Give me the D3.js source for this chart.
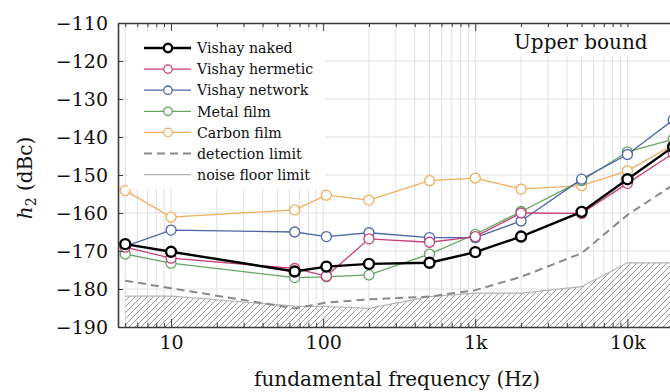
<!DOCTYPE html>
<html>
<head>
<meta charset="utf-8">
<script src="https://cdn.jsdelivr.net/npm/d3@7"></script>
<style>
  body { margin: 0; background: #fff; }
  svg { display: block; font-family: "DejaVu Serif", "Liberation Serif", "Times New Roman", serif; }
</style>
</head>
<body>
<script>
// frequencies of the measured points (Hz)
const freqs = [5, 10, 65, 105, 200, 500, 1000, 2000, 5000, 10000, 20000];

// h2 in dBc for each resistor type
const vishayNaked    = [-168.2, -170.2, -175.4, -174.1, -173.4, -173.1, -170.3, -166.2, -159.7, -151.1, -142.6];
const vishayHermetic = [-169.0, -171.9, -174.6, -176.6, -166.8, -167.7, -166.2, -160.0, -160.1, -152.2, -144.3];
const vishayNetwork  = [-168.8, -164.5, -165.0, -166.2, -165.2, -166.5, -166.5, -162.1, -151.1, -144.6, -135.5];
const metalFilm      = [-170.8, -173.2, -177.0, -176.8, -176.3, -170.8, -165.6, -159.6, -151.5, -143.9, -140.6];
const carbonFilm     = [-154.1, -161.1, -159.2, -155.3, -156.6, -151.5, -150.8, -153.7, -152.8, -148.9, -142.1];

// limits
const detectionLimit = [-177.8, -179.8, -185.1, -183.6, -182.7, -182.0, -180.3, -176.8, -170.6, -160.5, -152.6];
const noiseFloor     = [-181.9, -181.9, -184.5, -184.6, -185.1, -182.0, -181.1, -181.1, -179.4, -173.1, -173.1];

const yTicks = [-190, -180, -170, -160, -150, -140, -130, -120, -110];
const xMajor = [10, 100, 1000, 10000];
const xLabels = ["10", "100", "1k", "10k"];

const series = [
  { name: "Carbon film", values: carbonFilm, color: "#eeae5c", width: 1.3 },
  { name: "Metal film", values: metalFilm, color: "#63a562", width: 1.3 },
  { name: "Vishay network", values: vishayNetwork, color: "#4f66a8", width: 1.3 },
  { name: "Vishay hermetic", values: vishayHermetic, color: "#c4417a", width: 1.3 },
  { name: "Vishay naked", values: vishayNaked, color: "#000000", width: 2.4 }
];

const W = 670, H = 392;
const pLeft = 118, pTop = 23, pBottom = 327, pRight = 700;
const serif = '"DejaVu Serif", "Liberation Serif", "Times New Roman", serif';

const svg = d3.select("body").append("svg")
  .attr("width", W).attr("height", H);

const x = d3.scaleLog().domain([4.48, 30000]).range([pLeft, pRight]);
const y = d3.scaleLinear().domain([-190, -110]).range([pBottom, pTop]);

// minor tick positions
const xMinor = [];
[1, 10, 100, 1000, 10000].forEach(d => {
  for (let k = 1; k < 10; k++) {
    const v = d * k;
    if (v >= 5 && v <= 30000 && !xMajor.includes(v)) xMinor.push(v);
  }
});

// grid
const grid = svg.append("g").attr("stroke", "#e0e0e0").attr("stroke-width", 1);
grid.selectAll("line.v").data(xMinor.concat(xMajor)).join("line").attr("class", "v")
  .attr("x1", d => x(d)).attr("x2", d => x(d))
  .attr("y1", pTop).attr("y2", pBottom);
grid.selectAll("line.h").data(yTicks.slice(1, -1)).join("line").attr("class", "h")
  .attr("x1", pLeft).attr("x2", pRight)
  .attr("y1", d => y(d)).attr("y2", d => y(d));

// hatch pattern for noise floor
const defs = svg.append("defs");
const pat = defs.append("pattern").attr("id", "hatch")
  .attr("patternUnits", "userSpaceOnUse").attr("width", 6).attr("height", 6);
pat.append("path").attr("d", "M0,6 L6,0 M-1.5,1.5 L1.5,-1.5 M4.5,7.5 L7.5,4.5")
  .attr("stroke", "#8c8c8c").attr("stroke-width", 0.9);

const pts = (vals) => freqs.map((f, i) => [f, vals[i]]);

const area = d3.area()
  .x(d => x(d[0])).y0(y(-190)).y1(d => y(d[1]));
svg.append("path").datum(pts(noiseFloor))
  .attr("fill", "url(#hatch)").attr("d", area);

const line = d3.line().x(d => x(d[0])).y(d => y(d[1]));

svg.append("path").datum(pts(noiseFloor))
  .attr("fill", "none").attr("stroke", "#b4b4b4").attr("stroke-width", 1.2)
  .attr("d", line);

svg.append("path").datum(pts(detectionLimit))
  .attr("fill", "none").attr("stroke", "#8a8a8a").attr("stroke-width", 2)
  .attr("stroke-dasharray", "8,5")
  .attr("d", line);

// data series
series.forEach(s => {
  const g = svg.append("g");
  g.append("path").datum(pts(s.values))
    .attr("fill", "none").attr("stroke", s.color).attr("stroke-width", s.width)
    .attr("d", line);
  g.selectAll("circle").data(pts(s.values)).join("circle")
    .attr("cx", d => x(d[0])).attr("cy", d => y(d[1]))
    .attr("r", 5)
    .attr("fill", "#fff").attr("stroke", s.color).attr("stroke-width", s.width);
});

// axes
const axisColor = "#3a3a3a";
function styleAxis(g) {
  g.select(".domain").attr("stroke", axisColor).attr("stroke-width", 1.6);
  g.selectAll(".tick line").attr("stroke", axisColor);
  g.selectAll("text").attr("font-size", 19).attr("fill", "#111")
    .attr("font-family", serif);
}

svg.append("g").attr("transform", `translate(0,${pBottom})`)
  .call(d3.axisBottom(x).tickValues(xMajor).tickSize(-8).tickSizeOuter(0)
    .tickPadding(9).tickFormat((d, i) => xLabels[i]))
  .call(styleAxis);
svg.append("g").attr("transform", `translate(0,${pBottom})`)
  .call(d3.axisBottom(x).tickValues(xMinor).tickSize(-4).tickSizeOuter(0).tickFormat(""))
  .call(g => g.select(".domain").remove())
  .call(styleAxis);

svg.append("g").attr("transform", `translate(0,${pTop})`)
  .call(d3.axisTop(x).tickValues(xMajor).tickSize(-8).tickSizeOuter(0).tickFormat(""))
  .call(styleAxis);
svg.append("g").attr("transform", `translate(0,${pTop})`)
  .call(d3.axisTop(x).tickValues(xMinor).tickSize(-4).tickSizeOuter(0).tickFormat(""))
  .call(g => g.select(".domain").remove())
  .call(styleAxis);

svg.append("g").attr("transform", `translate(${pLeft},0)`)
  .call(d3.axisLeft(y).tickValues(yTicks).tickSize(-5).tickSizeOuter(0)
    .tickPadding(10).tickFormat(d => "\u2212" + Math.abs(d)))
  .call(styleAxis);

// axis titles
svg.append("text")
  .attr("x", 397).attr("y", 386)
  .attr("text-anchor", "middle").attr("font-size", 20).attr("fill", "#111")
  .attr("font-family", serif)
  .text("fundamental frequency (Hz)");

const yt = svg.append("text")
  .attr("transform", "translate(32,178) rotate(-90)")
  .attr("text-anchor", "middle").attr("font-size", 20).attr("fill", "#111")
  .attr("font-family", serif);
yt.append("tspan").attr("font-style", "italic").text("h");
yt.append("tspan").attr("font-size", 14).attr("dy", 4).text("2");
yt.append("tspan").attr("dy", -4).text(" (dBc)");

// legend
const legendItems = [
  { name: "Vishay naked", color: "#000", width: 2.4, marker: true },
  { name: "Vishay hermetic", color: "#c4417a", width: 1.3, marker: true },
  { name: "Vishay network", color: "#4f66a8", width: 1.3, marker: true },
  { name: "Metal film", color: "#63a562", width: 1.3, marker: true },
  { name: "Carbon film", color: "#eeae5c", width: 1.3, marker: true },
  { name: "detection limit", color: "#8a8a8a", width: 2, dash: "8,5" },
  { name: "noise floor limit", color: "#b4b4b4", width: 1.2 }
];
const lg = svg.append("g");
lg.append("rect").attr("x", 128).attr("y", 31).attr("width", 197).attr("height", 158)
  .attr("fill", "#fff");
legendItems.forEach((d, i) => {
  const cy = 48 + i * 21.1;
  lg.append("line").attr("x1", 144).attr("x2", 191).attr("y1", cy).attr("y2", cy)
    .attr("stroke", d.color).attr("stroke-width", d.width)
    .attr("stroke-dasharray", d.dash || null);
  if (d.marker) {
    lg.append("circle").attr("cx", 168).attr("cy", cy).attr("r", 4.2)
      .attr("fill", "#fff").attr("stroke", d.color).attr("stroke-width", d.width);
  }
  lg.append("text").attr("x", 197).attr("y", cy + 5.2)
    .attr("font-size", 14.2).attr("fill", "#111").attr("font-family", serif)
    .text(d.name);
});

// upper bound label
svg.append("rect").attr("x", 508).attr("y", 27).attr("width", 148).attr("height", 29)
  .attr("fill", "#fff");
svg.append("text").attr("x", 514).attr("y", 49)
  .attr("font-size", 20).attr("fill", "#111").attr("font-family", serif)
  .text("Upper bound");
</script>
</body>
</html>
